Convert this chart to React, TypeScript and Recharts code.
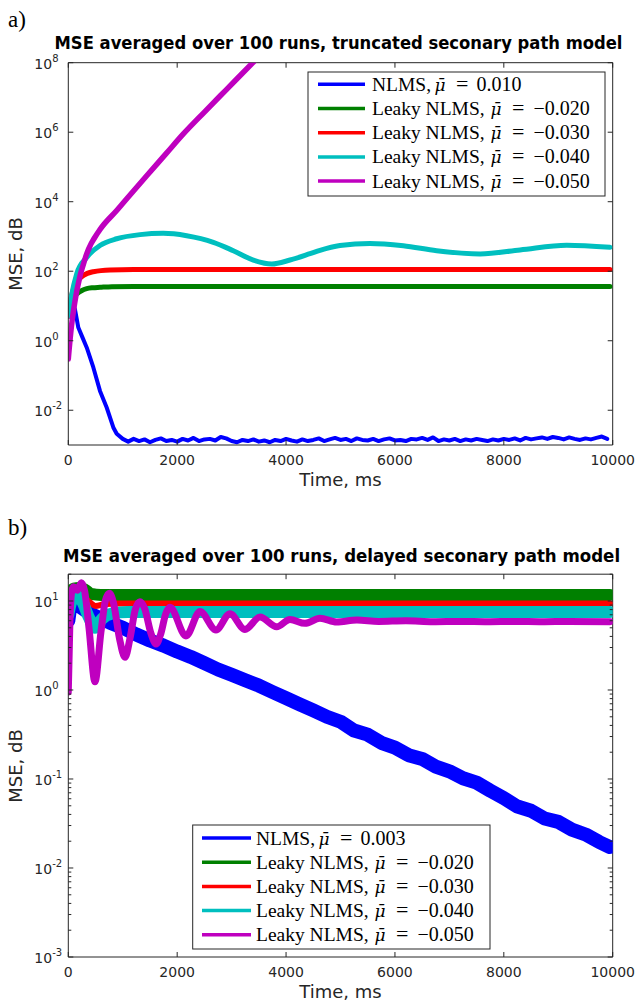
import React from 'react';
import { LineChart, Line, XAxis, YAxis, ReferenceLine } from 'recharts';

// ---------- colours / labels ----------
const COLORS = ['#0000ff', '#008000', '#ff0000', '#00bfbf', '#bf00bf'];
const NAMES = ['NLMS,', 'Leaky NLMS,', 'Leaky NLMS,', 'Leaky NLMS,', 'Leaky NLMS,'];
const MU_A = ['0.010', '\u22120.020', '\u22120.030', '\u22120.040', '\u22120.050'];
const MU_B = ['0.003', '\u22120.020', '\u22120.030', '\u22120.040', '\u22120.050'];
const TITLE_A = 'MSE averaged over 100 runs, truncated seconary path model';
const TITLE_B = 'MSE averaged over 100 runs, delayed seconary path model';
const X_LABEL = 'Time, ms';
const Y_LABEL = 'MSE, dB';
const X_TICKS = [0, 2000, 4000, 6000, 8000, 10000];
const Y_TICKS_A = [1e-2, 1, 1e2, 1e4, 1e6, 1e8];
const Y_TICKS_B = [
  0.001, 0.002, 0.003, 0.004, 0.005, 0.006, 0.007, 0.008, 0.009,
  0.01, 0.02, 0.03, 0.04, 0.05, 0.06, 0.07, 0.08, 0.09,
  0.1, 0.2, 0.3, 0.4, 0.5, 0.6, 0.7, 0.8, 0.9,
  1, 2, 3, 4, 5, 6, 7, 8, 9, 10, 20,
];

// ---------- panel a) data ----------
const T_BLUE_A_HEAD = [0, 50, 120, 184, 260, 338, 460, 582, 705, 827, 889, 1000];
const V_BLUE_A_HEAD = [7.3, 8.0, 8.4, 2.4, 1.25, 0.64, 0.17, 0.036, 0.012, 0.0032, 0.0021, 0.0015];
const BLUE_A_TAIL_START = 1100;
const BLUE_A_TAIL_STEP = 100;
const V_BLUE_A_TAIL = [
  1.25e-3, 1.5e-3, 1.3e-3, 1.45e-3, 1.2e-3, 1.4e-3, 1.55e-3, 1.3e-3, 1.4e-3, 1.25e-3,
  1.5e-3, 1.35e-3, 1.6e-3, 1.3e-3, 1.45e-3, 1.5e-3, 1.35e-3, 1.7e-3, 1.55e-3, 1.3e-3,
  1.2e-3, 1.4e-3, 1.3e-3, 1.45e-3, 1.25e-3, 1.35e-3, 1.2e-3, 1.4e-3, 1.3e-3, 1.5e-3,
  1.35e-3, 1.25e-3, 1.45e-3, 1.3e-3, 1.4e-3, 1.55e-3, 1.3e-3, 1.45e-3, 1.6e-3, 1.4e-3,
  1.5e-3, 1.3e-3, 1.55e-3, 1.4e-3, 1.35e-3, 1.5e-3, 1.3e-3, 1.45e-3, 1.55e-3, 1.35e-3,
  1.4e-3, 1.3e-3, 1.5e-3, 1.45e-3, 1.6e-3, 1.4e-3, 1.65e-3, 1.3e-3, 1.45e-3, 1.35e-3,
  1.5e-3, 1.3e-3, 1.45e-3, 1.35e-3, 1.5e-3, 1.4e-3, 1.3e-3, 1.45e-3, 1.35e-3, 1.5e-3,
  1.4e-3, 1.55e-3, 1.35e-3, 1.6e-3, 1.45e-3, 1.55e-3, 1.65e-3, 1.5e-3, 1.7e-3, 1.6e-3,
  1.45e-3, 1.65e-3, 1.5e-3, 1.4e-3, 1.55e-3, 1.45e-3, 1.6e-3, 1.75e-3, 1.5e-3,
];
const T_GREEN_A = [0, 60, 155, 250, 338, 450, 582, 800, 1200, 9950];
const V_GREEN_A = [6, 14, 22, 28, 31.5, 33.5, 34.5, 36, 36.5, 36.5];
const T_RED_A = [0, 60, 155, 276, 460, 767, 1200, 9950];
const V_RED_A = [5, 20, 48, 75, 97, 109, 112, 112];
const T_CYAN_A = [0, 60, 155, 338, 582, 889, 1317, 1745, 2174, 2664, 3031, 3398, 3735, 4072, 4440, 4623, 4990, 5541, 6154, 6767, 7563, 8298, 9155, 9950];
const V_CYAN_A = [5, 20, 85, 250, 550, 860, 1130, 1230, 1050, 680, 390, 210, 162, 210, 320, 400, 550, 630, 540, 390, 315, 410, 560, 490];
const T_MAG_A = [0, 55, 155, 338, 582, 889, 1042, 1440, 1800, 2113, 2500, 2900, 3369, 3700];
const V_MAG_A = [0.3, 2.4, 27, 316, 1580, 5600, 1.07e4, 5.6e4, 2.45e5, 8.9e5, 3.8e6, 1.66e7, 9.3e7, 3.2e8];

// ---------- panel b) data ----------
const T_BLUE_B = [0, 50, 120, 215, 400, 766, 1000, 1250, 1500, 1750, 2000, 2250, 2500, 2750, 3000, 3250, 3500, 3750, 4000, 4250, 4500, 4750, 5000, 5250, 5500, 5750, 6000, 6250, 6500, 6750, 7000, 7250, 7500, 7750, 8000, 8250, 8500, 8750, 9000, 9250, 9500, 9750, 9950];
const V_BLUE_B = [6, 10, 11, 8.6, 7.2, 5.7, 5.0, 4.2, 3.6, 3.15, 2.7, 2.35, 2.0, 1.7, 1.48, 1.29, 1.12, 0.95, 0.81, 0.69, 0.59, 0.5, 0.44, 0.35, 0.315, 0.255, 0.225, 0.185, 0.168, 0.138, 0.122, 0.102, 0.091, 0.074, 0.061, 0.049, 0.044, 0.036, 0.033, 0.027, 0.0238, 0.0196, 0.0172];
const T_GREEN_B = [0, 40, 100, 200, 300, 420, 600, 9950];
const V_GREEN_B = [7.7, 12.5, 13.8, 14.0, 13.5, 12.0, 11.7, 11.7];
const T_RED_B = [0, 60, 150, 280, 400, 500, 650, 900, 9950];
const V_RED_B = [7, 10.5, 11.5, 11, 9.6, 8.8, 9.2, 9.4, 9.4];
const T_CYAN_B = [0, 60, 150, 250, 380, 490, 620, 800, 1100, 1500, 9950];
const V_CYAN_B = [7, 10, 11.5, 10, 6.5, 5.0, 6.3, 7.2, 7.5, 7.5, 7.5];
const T_MAG_B = [0, 30, 60, 92, 166, 240, 300, 380, 490, 600, 680, 753, 830, 940, 1041, 1140, 1230, 1317, 1400, 1520, 1611, 1700, 1790, 1868, 2162, 2419, 2713, 2970, 3245, 3521, 3828, 4072, 4348, 4623, 4930, 5300, 5700, 6200, 6700, 7200, 7700, 8200, 8700, 9200, 9950];
const V_MAG_B = [0.95, 6, 12.5, 14.5, 13.2, 16, 13, 5, 1.24, 4.5, 10, 12.2, 9.5, 3.8, 2.33, 4, 8, 9.8, 8.3, 4.3, 3.29, 4.3, 7.2, 8.5, 4.05, 7.6, 4.72, 7.2, 4.79, 6.6, 5.13, 6.2, 5.61, 6.4, 5.81, 6.1, 5.9, 6.0, 5.85, 5.9, 5.85, 5.9, 5.85, 5.9, 5.85];

// ---------- helpers ----------
const pairs = (ts: number[], vs: number[]) => ts.map((t, i) => ({ t, v: vs[i] }));
const blueA = [
  ...pairs(T_BLUE_A_HEAD, V_BLUE_A_HEAD),
  ...V_BLUE_A_TAIL.map((v, i) => ({ t: BLUE_A_TAIL_START + i * BLUE_A_TAIL_STEP, v })),
];
const SERIES_A = [
  { data: blueA, w: 4, type: 'linear' },
  { data: pairs(T_GREEN_A, V_GREEN_A), w: 5, type: 'monotone' },
  { data: pairs(T_RED_A, V_RED_A), w: 5, type: 'monotone' },
  { data: pairs(T_CYAN_A, V_CYAN_A), w: 5, type: 'monotone' },
  { data: pairs(T_MAG_A, V_MAG_A), w: 5.5, type: 'monotone' },
];
const SERIES_B = [
  { data: pairs(T_BLUE_B, V_BLUE_B), w: 14, type: 'linear' },
  { data: pairs(T_GREEN_B, V_GREEN_B), w: 12, type: 'monotone' },
  { data: pairs(T_RED_B, V_RED_B), w: 6, type: 'monotone' },
  { data: pairs(T_CYAN_B, V_CYAN_B), w: 12, type: 'monotone' },
  { data: pairs(T_MAG_B, V_MAG_B), w: 7, type: 'monotone' },
];

const AX = '#262626';
const SANS = 'DejaVu Sans';
const SERIF = 'Liberation Serif';

const PLOT_LEFT = 68.3;
const PLOT_RIGHT = 612.7;
const PLOT_W = PLOT_RIGHT - PLOT_LEFT;

const XTick = (props: any) => {
  const { x, y, payload, plotH } = props;
  return (
    <g>
      <line x1={x} y1={y} x2={x} y2={y - 5} stroke={AX} strokeWidth={1} />
      <line x1={x} y1={y - plotH} x2={x} y2={y - plotH + 5} stroke={AX} strokeWidth={1} />
      <text x={x} y={y + 20} textAnchor="middle" fontFamily={SANS} fontSize={14} fill={AX}>
        {payload.value}
      </text>
    </g>
  );
};

const YTick = (props: any) => {
  const { x, y, payload } = props;
  const v = payload.value;
  const e = Math.log10(v);
  const ei = Math.round(e);
  const major = Math.abs(e - ei) < 1e-6;
  const len = major ? 5 : 3;
  return (
    <g>
      <line x1={x} y1={y} x2={x + len} y2={y} stroke={AX} strokeWidth={1} />
      <line x1={x + PLOT_W} y1={y} x2={x + PLOT_W - len} y2={y} stroke={AX} strokeWidth={1} />
      {major && (
        <text x={x - 34} y={y + 6} fontFamily={SANS} fontSize={14} fill={AX}>
          10
          <tspan dy={-7} fontSize={10}>{ei < 0 ? '-' + Math.abs(ei) : String(ei)}</tspan>
        </text>
      )}
    </g>
  );
};

function Panel(props: { series: any[]; yDomain: number[]; yTicks: number[]; top: number; mTop: number; mBottom: number }) {
  const { series, yDomain, yTicks, top, mTop, mBottom } = props;
  const H = 500;
  const plotH = H - mTop - mBottom;
  return (
    <div style={{ position: 'absolute', left: 0, top, width: 638, height: H }}>
      <LineChart width={638} height={H} margin={{ top: mTop, right: 638 - PLOT_RIGHT, bottom: mBottom - 1, left: PLOT_LEFT - 1 }}>
        <XAxis
          type="number"
          dataKey="t"
          domain={[0, 10000]}
          ticks={X_TICKS}
          interval={0}
          height={1}
          tickSize={0}
          tickMargin={0}
          tickLine={false}
          axisLine={{ stroke: AX }}
          tick={<XTick plotH={plotH} />}
          allowDataOverflow
        />
        <YAxis
          type="number"
          dataKey="v"
          scale="log"
          domain={yDomain}
          ticks={yTicks}
          interval={0}
          width={1}
          tickSize={0}
          tickMargin={0}
          tickLine={false}
          axisLine={{ stroke: AX }}
          tick={<YTick />}
          allowDataOverflow
        />
        <ReferenceLine x={10000} stroke={AX} />
        <ReferenceLine y={yDomain[1]} stroke={AX} />
        {series.map((s, i) => (
          <Line
            key={i}
            data={s.data}
            dataKey="v"
            type={s.type}
            stroke={COLORS[i]}
            strokeWidth={s.w}
            strokeLinejoin="round"
            strokeLinecap="round"
            dot={false}
            activeDot={false}
            isAnimationActive={false}
          />
        ))}
      </LineChart>
    </div>
  );
}

function LegendBox(props: { x: number; y: number; w: number; h: number; rowY0: number; rowDy: number; lx1: number; lx2: number; tx: number; mus: string[] }) {
  const { x, y, w, h, rowY0, rowDy, lx1, lx2, tx, mus } = props;
  return (
    <g>
      <rect x={x} y={y} width={w} height={h} fill="#ffffff" stroke={AX} strokeWidth={1} />
      {NAMES.map((n, i) => {
        const cy = rowY0 + i * rowDy;
        const base = cy + 6.5;
        const leaky = i > 0;
        const muX = tx + (leaky ? 118.5 : 62.5);
        const eqX = tx + (leaky ? 140 : 84);
        const valX = tx + (leaky ? 161.5 : 104.5);
        return (
          <g key={i}>
            <line x1={lx1} y1={cy} x2={lx2} y2={cy} stroke={COLORS[i]} strokeWidth={3.5} />
            <text x={tx} y={base} fill="#000" fontFamily={SERIF} fontSize={19.5}>
              {n}
              <tspan x={muX} fontFamily="DejaVu Serif" fontStyle="italic" fontSize={17}>{'\u03bc\u0304'}</tspan>
              <tspan x={eqX} fontSize={22}>=</tspan>
              <tspan x={valX} fontSize={20}>{mus[i]}</tspan>
            </text>
          </g>
        );
      })}
    </g>
  );
}

export default function App() {
  return (
    <div style={{ position: 'absolute', left: 0, top: 0, width: 638, height: 1000, background: '#fff', overflow: 'hidden' }}>
      <Panel series={SERIES_A} yDomain={[1e-3, 1e8]} yTicks={Y_TICKS_A} top={0} mTop={62.7} mBottom={55} />
      <Panel series={SERIES_B} yDomain={[1e-3, 20]} yTicks={Y_TICKS_B} top={500} mTop={74.2} mBottom={43} />
      <svg width={638} height={1000} style={{ position: 'absolute', left: 0, top: 0, pointerEvents: 'none' }}>
        <text x={8} y={27} fontFamily={SERIF} fontSize={23} fill="#000">a)</text>
        <text x={8} y={535} fontFamily={SERIF} fontSize={23} fill="#000">b)</text>
        <text x={338.5} y={49} textAnchor="middle" fontFamily={SANS} fontWeight="bold" fontSize={17} textLength={568} lengthAdjust="spacingAndGlyphs" fill="#000">{TITLE_A}</text>
        <text x={341.6} y={562} textAnchor="middle" fontFamily={SANS} fontWeight="bold" fontSize={17} textLength={557} lengthAdjust="spacingAndGlyphs" fill="#000">{TITLE_B}</text>
        <text x={340.5} y={486} textAnchor="middle" fontFamily={SANS} fontSize={18} fill={AX}>{X_LABEL}</text>
        <text x={340.5} y={998} textAnchor="middle" fontFamily={SANS} fontSize={18} fill={AX}>{X_LABEL}</text>
        <text transform="translate(21.5,254) rotate(-90)" textAnchor="middle" fontFamily={SANS} fontSize={18} fill={AX}>{Y_LABEL}</text>
        <text transform="translate(21.5,766) rotate(-90)" textAnchor="middle" fontFamily={SANS} fontSize={18} fill={AX}>{Y_LABEL}</text>
        <LegendBox x={308} y={72} w={297} h={124} rowY0={84.3} rowDy={24.2} lx1={318} lx2={365} tx={372} mus={MU_A} />
        <LegendBox x={192.7} y={825} w={297.3} h={124} rowY0={838} rowDy={24.2} lx1={202} lx2={251} tx={256} mus={MU_B} />
      </svg>
    </div>
  );
}
